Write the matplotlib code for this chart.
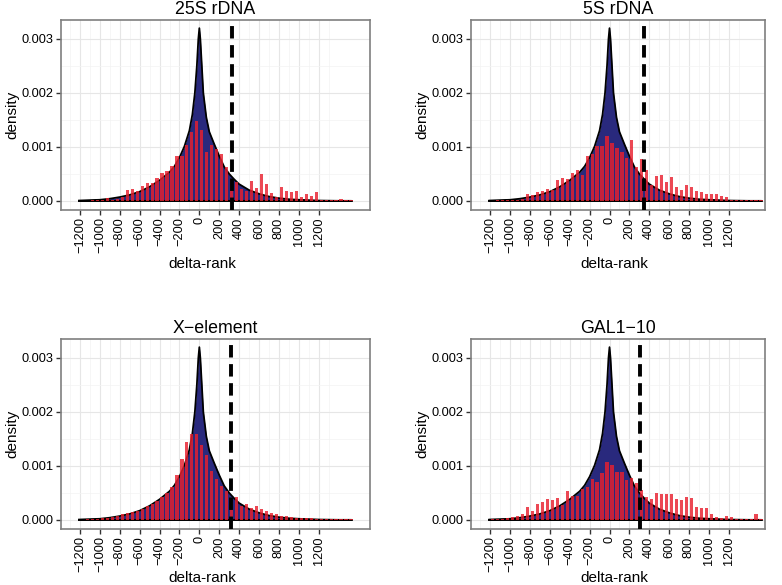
import matplotlib
matplotlib.use('Agg')

import numpy as np
import matplotlib.pyplot as plt
from matplotlib.ticker import FixedLocator, FixedFormatter

plt.rcParams['font.family'] = ['Liberation Sans', 'DejaVu Sans']

# bin centres of the red histograms (width 50)
bin_centers = list(range(-1225, 1526, 50))

# panel titles and dashed cut-off positions
titles = ['25S rDNA', '5S rDNA', 'X\u2212element', 'GAL1\u221210']
cutoffs = [328, 345, 322, 305]

# red histogram densities, one list per panel
h_25s = [0, 0, 0, 0.00001, 0.00002, 0.00001, 0.00005, 0.00002, 0.00003, 0.00008,
         0.0002, 0.00022, 0.00019, 0.00028, 0.00033, 0.00034, 0.00042, 0.00051, 0.00055, 0.00065,
         0.00083, 0.00084, 0.00104, 0.00127, 0.00148, 0.00131, 0.00091, 0.00104, 0.00097, 0.00087,
         0.00062, 0.00041, 0.00035, 0.00022, 0.00019, 0.00036, 0.00024, 0.00049, 0.00032, 0.00015,
         0.00008, 0.00025, 0.00019, 0.00016, 0.00018, 0.00007, 0.00013, 0.00009, 0.00016, 0.00002,
         0.00002, 0.00001, 0.00001, 0.00004, 0.00001, 0.00001]
h_5s = [0, 0, 0.00001, 0.00001, 0.00001, 0.00002, 0.00002, 0.00003, 0.00012, 0.0001,
        0.00017, 0.00018, 0.00022, 0.0002, 0.00038, 0.00043, 0.00041, 0.00052, 0.00058, 0.00047,
        0.00083, 0.00086, 0.00101, 0.00102, 0.00121, 0.00107, 0.00098, 0.0009, 0.0008, 0.00112,
        0.00063, 0.00077, 0.00057, 0.0003, 0.00046, 0.00047, 0.00035, 0.00045, 0.00025, 0.0002,
        0.0003, 0.00026, 0.00019, 0.00016, 0.00012, 0.00012, 0.00012, 0.00009, 0.00008, 0.00002,
        0.00001, 0.00001, 0.00001, 0.00001, 0.00001, 0.00002]
h_x = [0, 0, 0.00001, 0.00001, 0.00002, 0.00003, 0.00004, 0.00005, 0.00007, 0.0001,
       0.00012, 0.00014, 0.00017, 0.0002, 0.00026, 0.0003, 0.00035, 0.00043, 0.0005, 0.0006,
       0.00083, 0.00113, 0.00145, 0.0016, 0.00159, 0.00139, 0.00121, 0.0009, 0.00075, 0.00063,
       0.00053, 0.00033, 0.00042, 0.00025, 0.0003, 0.00022, 0.00025, 0.0002, 0.00017, 0.00012,
       0.0001, 0.00008, 0.00007, 0.00006, 0.00004, 0.00004, 0.00003, 0.00003, 0.00002, 0.00001,
       0.00001, 0.00001, 0.00001, 0.00001, 0.00001, 0.00001]
h_gal = [0, 0.00001, 0.00001, 0.00002, 0.00004, 0.00005, 0.00007, 0.00011, 0.00023, 0.00016,
         0.0003, 0.00034, 0.00038, 0.00036, 0.00041, 0.00028, 0.00053, 0.00045, 0.00045, 0.00058,
         0.0006, 0.00075, 0.00071, 0.00087, 0.00108, 0.00101, 0.00089, 0.00089, 0.00073, 0.00077,
         0.00068, 0.00056, 0.00042, 0.00039, 0.0005, 0.00048, 0.00047, 0.00047, 0.00039, 0.00036,
         0.00042, 0.0004, 0.00023, 0.00022, 0.00022, 0.00011, 0.00005, 0.00004, 0.00007, 0.00006,
         0.00001, 0.00001, 0.00001, 0.00001, 0.0001, 0.00001]
hist_heights = [h_25s, h_5s, h_x, h_gal]

# background density curve (same in every panel)
curve_x = [-1210, -1000, -900, -800, -700, -600, -500, -400, -300, -250, -200, -150, -100,
           -70, -45, -25, -10, 0, 10, 25, 40, 70, 100, 150, 200, 250, 300, 350, 400,
           500, 600, 700, 800, 900, 1000, 1200, 1400, 1530]
curve_y = [0.000005, 0.00002, 0.00004, 0.00007, 0.00011, 0.00017, 0.00026, 0.00038, 0.00053,
           0.00064, 0.0008, 0.00101, 0.0013, 0.0016, 0.002, 0.0025, 0.003, 0.0032, 0.003,
           0.0025, 0.002, 0.00155, 0.00128, 0.00105, 0.00083, 0.00063, 0.0005, 0.0004, 0.00031,
           0.0002, 0.00013, 0.00008, 0.00005, 0.00003, 0.00002, 0.000005, 0.0, 0.0]

x_breaks = list(range(-1200, 1201, 200))
x_labels = [str(v).replace('-', '\u2212') for v in x_breaks]
y_breaks = [0.0, 0.001, 0.002, 0.003]
y_labels = ['0.000', '0.001', '0.002', '0.003']

NAVY = '#29297d'
RED = '#e8202e'
W, H = 782, 585

fig = plt.figure(figsize=(W / 100, H / 100), dpi=100)

# axes boxes in pixels: left, top, right, bottom
boxes = [(61, 19.5, 370, 209.5), (471, 19.5, 765, 209.5),
         (61, 338.5, 370, 528.5), (471, 338.5, 765, 528.5)]
xlims = [(-1391, 1716), (-1394, 1565), (-1391, 1716), (-1394, 1565)]
# axis-title centres in pixels (x of "delta-rank", x of "density", y of "delta-rank")
xlab_x = [202, 614, 202, 614]
ylab_x = [12, 422, 12, 422]
xlab_y = [264, 264, 578, 578]

for i in range(4):
    l, t, r, b = boxes[i]
    ax = fig.add_axes([l / W, 1 - b / H, (r - l) / W, (b - t) / H])

    ax.fill_between(curve_x, curve_y, 0, color=NAVY, linewidth=0, zorder=2)
    ax.plot(curve_x + [curve_x[0]], curve_y + [0], color='black', lw=1.3, zorder=3)
    ax.plot([curve_x[0], curve_x[-1]], [0, 0], color='black', lw=1.3, zorder=3)
    ax.bar(bin_centers, hist_heights[i], width=32, color=RED, alpha=0.82,
           linewidth=0, zorder=4)
    ax.axvline(cutoffs[i], color='black', lw=2.8, ls=(0, (3.2, 1.7)), zorder=5)

    ax.set_xlim(*xlims[i])
    ax.set_ylim(-0.00016, 0.00336)

    ax.xaxis.set_major_locator(FixedLocator(x_breaks))
    ax.xaxis.set_major_formatter(FixedFormatter(x_labels))
    ax.xaxis.set_minor_locator(FixedLocator(list(range(-1300, 1301, 200))))
    ax.yaxis.set_major_locator(FixedLocator(y_breaks))
    ax.yaxis.set_major_formatter(FixedFormatter(y_labels))
    ax.yaxis.set_minor_locator(FixedLocator([0.0005, 0.0015, 0.0025]))

    ax.grid(which='major', color='#e6e6e6', lw=0.8, zorder=0)
    ax.grid(which='minor', color='#f3f3f3', lw=0.5, zorder=0)
    ax.set_axisbelow(True)

    ax.tick_params(which='major', direction='out', length=3.6, width=1.0,
                   color='#333333', labelsize=9.2, labelcolor='black', pad=2)
    ax.tick_params(which='minor', length=0)
    for lab in ax.get_xticklabels():
        lab.set_rotation(90)
        lab.set_va('top')
        lab.set_ha('center')

    for s in ax.spines.values():
        s.set_color('#7f7f7f')
        s.set_linewidth(1.2)

    ax.set_title(titles[i], fontsize=12.8, pad=4)
    fig.text(xlab_x[i] / W, 1 - xlab_y[i] / H, 'delta-rank', fontsize=11,
             ha='center', va='center')
    fig.text(ylab_x[i] / W, 1 - ((t + b) / 2) / H, 'density', fontsize=11,
             rotation=90, ha='center', va='center')

fig.savefig('out.png', dpi=100)
